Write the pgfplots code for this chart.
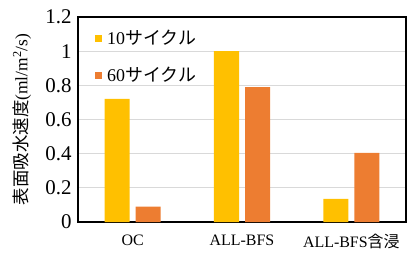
\documentclass[border=0pt]{standalone}
\usepackage{pgfplots}
\pgfplotsset{compat=1.18}
\usepackage{fontspec}
\setmainfont{Liberation Serif}
\newfontfamily\jp{Noto Sans CJK JP}
\definecolor{cyel}{HTML}{FFC000}
\definecolor{corg}{HTML}{ED7D31}
\begin{document}
\begin{tikzpicture}
\begin{axis}[
  at={(0,0)}, anchor=south west,
  scale only axis, width=328bp, height=205bp,
  ybar=6bp, bar width=25bp,
  xmin=-0.5, xmax=2.5, ymin=0, ymax=1.2,
  xtick={0,1,2}, xticklabels={OC, ALL-BFS, {ALL-BFS{\jp 含浸}}},
  ytick={0,0.2,0.4,0.6,0.8,1,1.2},
  yticklabels={0,0.2,0.4,0.6,0.8,1,1.2},
  major tick length=0pt,
  ymajorgrids, grid style={draw=black!15, line width=1.2bp},
  axis line style={line width=1.6bp, black},
  yticklabel style={font=\fontsize{21}{23}\selectfont, xshift=-3bp},
  xticklabel style={font=\fontsize{16}{18}\selectfont, yshift=-9bp},
  ylabel={{\jp 表面吸水速度}(ml/m\textsuperscript{2}/s)},
  ylabel style={at={(axis description cs:-0.171,0.5)}, anchor=center, font=\fontsize{17.5}{20}\selectfont},
  legend style={draw=none, fill=none, at={(axis description cs:0.052,0.945)}, anchor=north west,
    font=\fontsize{18}{20}\selectfont, row sep=17bp, inner sep=0pt,
    /tikz/every odd column/.append style={column sep=3bp}},
  legend cell align=left,
  legend image code/.code={\fill[#1] (0bp,-4bp) rectangle (7bp,3bp);},
  clip=false,
]
\addplot[fill=cyel, draw=none] coordinates {(0,0.72) (1,1.0) (2,0.135)};
\addplot[fill=corg, draw=none] coordinates {(0,0.09) (1,0.79) (2,0.405)};
\legend{10{\jp サイクル}, 60{\jp サイクル}}
\end{axis}
\pgfresetboundingbox
\path (-78bp,-31bp) rectangle (329bp,222bp);
\end{tikzpicture}
\end{document}
